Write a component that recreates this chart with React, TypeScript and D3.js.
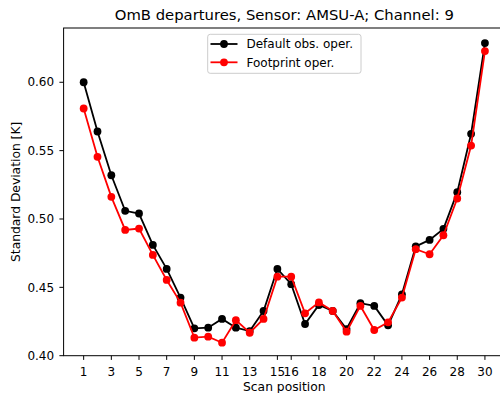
import React from "react";
import * as d3 from "d3";

const scanPositions = d3.range(1, 31);
const defaultObs = [0.600, 0.564, 0.532, 0.506, 0.504, 0.481, 0.4635, 0.4425, 0.420, 0.4205, 0.4269, 0.4205, 0.418, 0.4327, 0.4635, 0.4523, 0.4232, 0.4371, 0.4327, 0.4195, 0.4384, 0.4364, 0.4222, 0.4449, 0.480, 0.4847, 0.4928, 0.5196, 0.5623, 0.6287];
const footprint = [0.5808, 0.5455, 0.5162, 0.492, 0.493, 0.4737, 0.4554, 0.4388, 0.4132, 0.4139, 0.4095, 0.426, 0.4168, 0.4269, 0.4578, 0.4578, 0.431, 0.439, 0.4327, 0.4176, 0.4364, 0.4188, 0.4244, 0.4425, 0.4779, 0.4742, 0.4881, 0.515, 0.5537, 0.6228];
const xTicks = [1, 3, 5, 7, 9, 11, 13, 15, 16, 18, 20, 22, 24, 26, 28, 30];
const yTicks = [0.40, 0.45, 0.50, 0.55, 0.60];
const seriesNames = ["Default obs. oper.", "Footprint oper."];
const seriesColors = ["#000000", "#ff0000"];

const W = 500, H = 393;
const L = 63.6, R = 505, T = 28, B = 355.7;
const FONT = "DejaVu Sans, sans-serif";

export default function App() {
  const x = d3.scaleLinear().domain([-0.45, 31.45]).range([L, R]);
  const y = d3.scaleLinear().domain([0.40, 0.6397]).range([B, T]);
  const line = d3.line<number>().x((_, i) => x(scanPositions[i])).y((d) => y(d));
  const series = [defaultObs, footprint];

  return (
    <svg width={W} height={H} style={{ position: "absolute", left: 0, top: 0, background: "#fff" }} fontFamily={FONT}>
      <rect x={0} y={0} width={W} height={H} fill="#fff" />
      <text x={(L + R) / 2} y={20} textAnchor="middle" fontSize={14.8} fill="#000">
        OmB departures, Sensor: AMSU-A; Channel: 9
      </text>
      {series.map((s, si) => (
        <g key={si}>
          <path d={line(s) || ""} fill="none" stroke={seriesColors[si]} strokeWidth={1.8} />
          {s.map((v, i) => (
            <circle key={i} cx={x(scanPositions[i])} cy={y(v)} r={3.9} fill={seriesColors[si]} />
          ))}
        </g>
      ))}
      <rect x={L} y={T} width={R - L} height={B - T} fill="none" stroke="#000" strokeWidth={1} />
      {xTicks.map((t) => (
        <g key={t} transform={`translate(${x(t)},${B})`}>
          <line y1={0} y2={4.2} stroke="#000" strokeWidth={1} />
          <text y={20} textAnchor="middle" fontSize={12} fill="#000">{t}</text>
        </g>
      ))}
      {yTicks.map((t) => (
        <g key={t} transform={`translate(${L},${y(t)})`}>
          <line x1={0} x2={-4.2} stroke="#000" strokeWidth={1} />
          <text x={-9.5} dy="0.35em" textAnchor="end" fontSize={12} fill="#000">{t.toFixed(2)}</text>
        </g>
      ))}
      <text x={(L + R) / 2} y={391} textAnchor="middle" fontSize={12.3} fill="#000">Scan position</text>
      <text transform={`translate(19.5,${(T + B) / 2}) rotate(-90)`} textAnchor="middle" fontSize={12.3} fill="#000">
        Standard Deviation [K]
      </text>
      <g>
        <rect x={207.7} y={34.3} width={153.3} height={39} rx={2.5} fill="#fff" fillOpacity={0.8} stroke="#cccccc" strokeWidth={1} />
        {seriesNames.map((n, i) => {
          const ly = 44 + i * 18.3;
          return (
            <g key={n}>
              <line x1={210.5} x2={237.5} y1={ly} y2={ly} stroke={seriesColors[i]} strokeWidth={1.8} />
              <circle cx={224} cy={ly} r={3.9} fill={seriesColors[i]} />
              <text x={246.5} y={ly} dy="0.35em" fontSize={12} fill="#000">{n}</text>
            </g>
          );
        })}
      </g>
    </svg>
  );
}
